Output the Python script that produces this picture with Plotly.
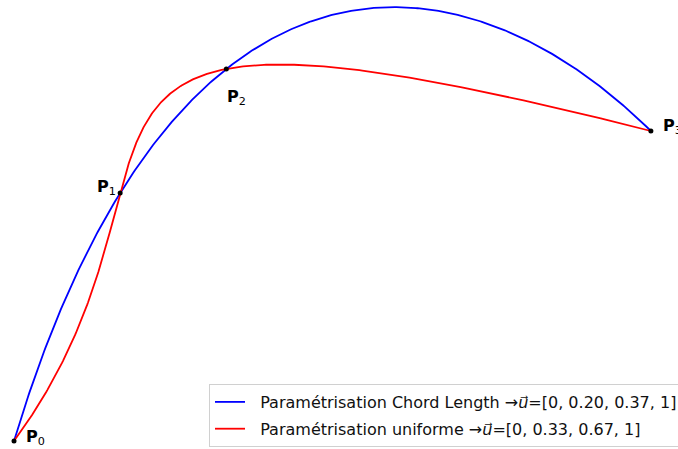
import numpy as np
import plotly.graph_objects as go

# Control points
px = [0, 5, 10, 30]
py = [0, 4, 6, 5]
labels = ["0", "1", "2", "3"]

# Parameter vectors
u_chord = [0, 0.2013, 0.3706, 1]
u_unif = [0, 1/3, 2/3, 1]

series = [
    ("Paramétrisation Chord Length", u_chord, "#0000ff"),
    ("Paramétrisation uniforme", u_unif, "#ff0000"),
]

def lagrange_curve(u, vals, t):
    c = np.polyfit(u, vals, 3)
    return np.polyval(c, t)

t = np.linspace(0, 1, 400)
fig = go.Figure()
for i, (name, u, col) in enumerate(series):
    cx = lagrange_curve(u, px, t)
    cy = lagrange_curve(u, py, t)
    ustr = ", ".join(["0"] + [f"{v:.2f}" for v in u[1:-1]] + ["1"])
    fig.add_trace(go.Scatter(
        x=cx, y=cy, mode="lines", line=dict(color=col, width=1.8),
        name=f"\u00a0\u00a0{name} \u2192<i>u</i>\u20d7=[{ustr}]", legendgroup=f"g{i}",
    ))

fig.add_trace(go.Scatter(x=px, y=py, mode="markers",
                         marker=dict(color="black", size=5), showlegend=False))

offsets = [(10, 4, "left"), (-2, 6, "right"), (-1, -28, "left"), (10, 5, "left")]
for xv, yv, lab, (dx, dy, anc) in zip(px, py, labels, offsets):
    fig.add_annotation(x=xv, y=yv, text=f"<b>P</b><sub>{lab}</sub>", showarrow=False,
                       xanchor=anc, yanchor="middle", xshift=dx, yshift=dy,
                       font=dict(family="DejaVu Sans", size=16, color="black"))

xs = 21.23
ys = 62.0
fig.update_layout(
    width=678, height=449,
    margin=dict(l=0, r=0, t=0, b=0, autoexpand=False),
    paper_bgcolor="white", plot_bgcolor="white",
    xaxis=dict(visible=False, range=[-14 / xs, (678 - 14) / xs]),
    yaxis=dict(visible=False, range=[-8 / ys, 441 / ys]),
    font=dict(family="DejaVu Sans", size=16, color="#111111"),
    legend=dict(x=209 / 678, y=1 - 384 / 449, xanchor="left", yanchor="top",
                bordercolor="#d0d0d0", borderwidth=1, bgcolor="rgba(255,255,255,0.8)",
                font=dict(size=16), tracegroupgap=3, itemwidth=30),
    showlegend=True,
)

fig.write_html("out.html", config={"displayModeBar": False},
               post_script="document.body.style.margin='0';document.body.style.overflow='hidden';")
